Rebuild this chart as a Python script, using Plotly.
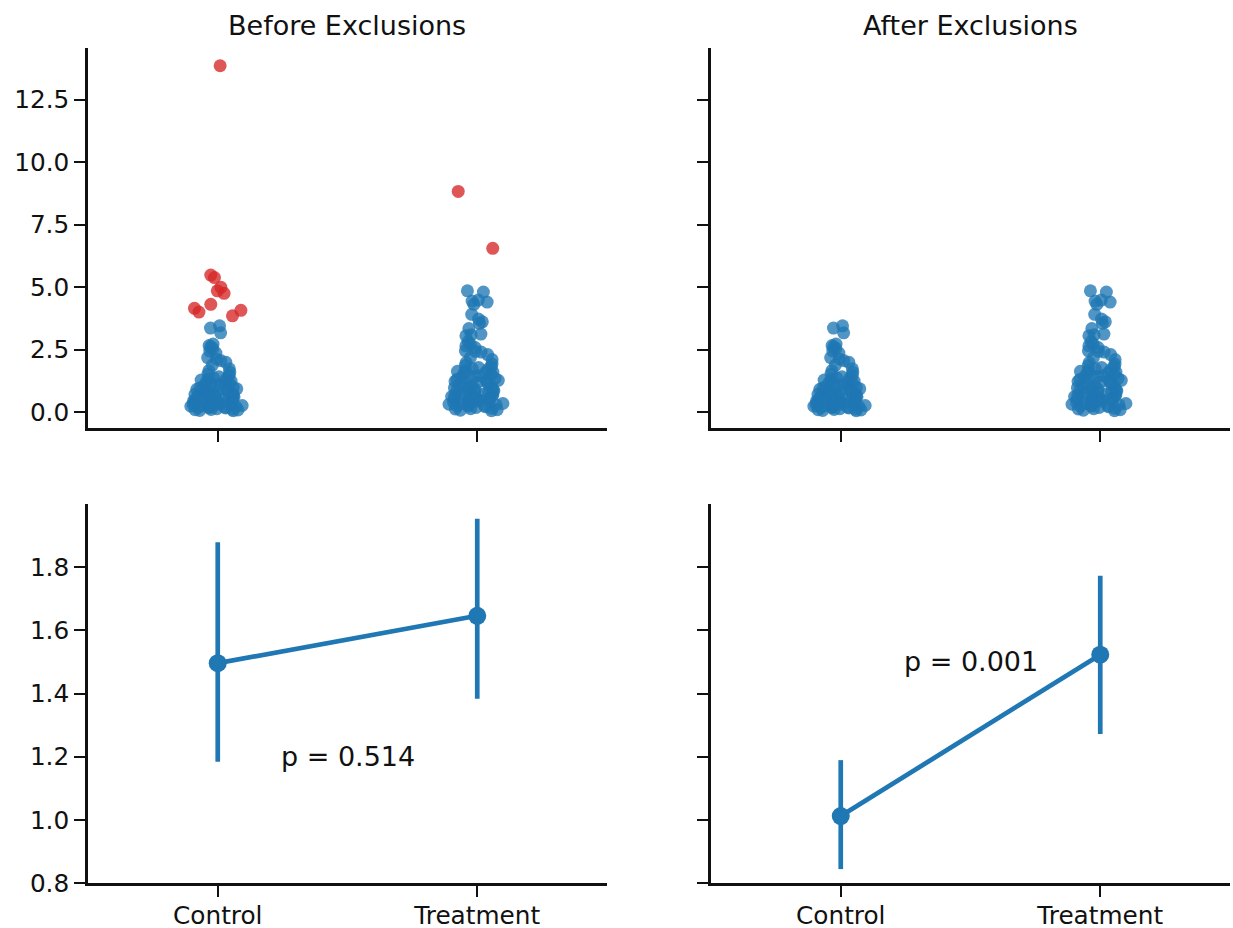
import plotly.graph_objects as go

# ---------------- data ----------------
categories = ["Control", "Treatment"]

control_kept = [
    0.42, 1.13, 1.31, 2.61, 0.08, 0.74, 1.47, 0.19, 0.56, 3.45,
    0.91, 0.33, 1.28, 0.97, 0.65, 2.18, 0.48, 1.02, 0.23, 0.81,
    1.66, 0.37, 1.21, 0.59, 2.72, 0.95, 0.29, 1.36, 0.06, 0.71,
    0.44, 1.19, 0.17, 1.88, 0.52, 0.86, 0.31, 3.17, 0.10, 0.63,
    1.41, 0.25, 0.77, 2.44, 0.39, 1.07, 0.21, 0.54, 1.59, 0.13,
    0.68, 0.35, 2.06, 0.88, 0.46, 1.24, 0.16, 0.61, 0.99, 0.28,
    1.73, 0.09, 0.50, 2.36, 0.79, 0.41, 1.33, 0.22, 0.57, 3.36,
    0.93, 0.34, 1.16, 0.18, 0.73, 2.12, 0.47, 0.05, 1.52, 0.26,
    0.84, 0.38, 2.66, 0.11, 1.09, 0.66, 1.99, 0.31, 2.55,
]
control_excluded = [13.86, 5.48, 5.38, 4.99, 4.85, 4.75, 4.31, 4.15, 4.07, 4.00, 3.85]

treatment_kept = [
    4.85, 4.80, 4.48, 4.44, 4.40, 4.31, 3.91, 3.72, 3.61, 3.55,
    3.34, 3.12, 3.09, 3.05, 2.82, 2.72, 2.65, 2.58, 2.45, 2.43,
    2.40, 2.30, 2.18, 2.10, 1.98, 1.92,
    0.38, 1.27, 0.62, 1.71, 0.15, 0.94, 1.48, 0.53, 0.29, 1.12,
    0.81, 1.63, 0.44, 0.07, 1.35, 0.69, 1.86, 0.24, 1.04, 0.57,
    1.55, 0.33, 0.88, 1.19, 0.12, 0.73, 1.42, 0.49, 1.78, 0.21,
    0.97, 0.64, 1.31, 0.36, 1.60, 0.84, 0.18, 1.09, 0.41, 1.51,
    0.77, 0.27, 1.23, 0.59, 1.67, 0.09, 0.91, 0.46, 1.38, 0.31,
    1.82, 0.67, 1.15, 0.52, 0.05, 1.45, 0.79, 0.23, 1.01, 0.61,
    1.74, 0.34, 1.28, 0.86, 0.13, 0.55, 1.58, 0.43, 0.99, 0.71,
    1.21, 0.26,
]
treatment_excluded = [8.83, 6.55]

before_mean = [1.496, 1.646]
before_ci_low = [1.184, 1.383]
before_ci_high = [1.879, 1.953]
after_mean = [1.012, 1.523]
after_ci_low = [0.844, 1.272]
after_ci_high = [1.189, 1.773]

panel_titles = ["Before Exclusions", "After Exclusions"]
p_labels = ["p = 0.514", "p = 0.001"]
p_label_y = [1.2, 1.5]

top_ticks = [0.0, 2.5, 5.0, 7.5, 10.0, 12.5]
bottom_ticks = [0.8, 1.0, 1.2, 1.4, 1.6, 1.8]

# ---------------- style ----------------
BLUE = "#1f77b4"
RED = "#d62728"
INK = "#111111"
FONT = "DejaVu Sans"
W, H = 1233, 928

fig = go.Figure()


def strip(values, cat, color, xa, ya):
    fig.add_trace(go.Box(
        x=[cat] * len(values), y=values, orientation="v",
        boxpoints="all", jitter=1, pointpos=0, width=0.23,
        fillcolor="rgba(0,0,0,0)", line=dict(width=0, color="rgba(0,0,0,0)"),
        marker=dict(color=color, size=13, opacity=0.78, line=dict(width=0)),
        hoveron="points", showlegend=False, xaxis=xa, yaxis=ya,
    ))


# top-left: before exclusions (outliers in red)
strip(control_kept, categories[0], BLUE, "x", "y")
strip(control_excluded, categories[0], RED, "x", "y")
strip(treatment_kept, categories[1], BLUE, "x", "y")
strip(treatment_excluded, categories[1], RED, "x", "y")
# top-right: after exclusions
strip(control_kept, categories[0], BLUE, "x2", "y2")
strip(treatment_kept, categories[1], BLUE, "x2", "y2")


def pointplot(mean, lo, hi, xa, ya):
    fig.add_trace(go.Scatter(
        x=categories, y=mean, mode="lines+markers",
        line=dict(color=BLUE, width=4.7),
        marker=dict(color=BLUE, size=18),
        error_y=dict(type="data", symmetric=False,
                     array=[h - m for h, m in zip(hi, mean)],
                     arrayminus=[m - l for m, l in zip(mean, lo)],
                     thickness=4.7, width=0, color=BLUE),
        showlegend=False, xaxis=xa, yaxis=ya,
    ))


pointplot(before_mean, before_ci_low, before_ci_high, "x3", "y3")
pointplot(after_mean, after_ci_low, after_ci_high, "x4", "y4")

xdom_left = [88 / W, 607 / W]
xdom_right = [711 / W, 1230 / W]
ydom_top = [1 - 428 / H, 1 - 48 / H]
ydom_bot = [1 - 883 / H, 1 - 504 / H]

common = dict(showline=True, linecolor=INK, linewidth=2.6, ticks="outside",
              ticklen=11, tickwidth=2.4, tickcolor=INK, showgrid=False,
              zeroline=False, fixedrange=True, automargin=False,
              tickfont=dict(family=FONT, size=24.75, color=INK))

xcommon = dict(common, type="category", categoryorder="array",
               categoryarray=categories, range=[-0.5, 1.5])

fig.update_layout(
    width=W, height=H, margin=dict(l=0, r=0, t=0, b=0, pad=0),
    paper_bgcolor="white", plot_bgcolor="white",
    boxmode="overlay",
    xaxis=dict(xcommon, domain=xdom_left, anchor="y", showticklabels=False),
    xaxis2=dict(xcommon, domain=xdom_right, anchor="y2", showticklabels=False),
    xaxis3=dict(xcommon, domain=xdom_left, anchor="y3", ticklabelstandoff=-3),
    xaxis4=dict(xcommon, domain=xdom_right, anchor="y4", ticklabelstandoff=-3),
    yaxis=dict(common, domain=ydom_top, anchor="x", range=[-0.64, 14.57],
               tickvals=top_ticks, tickformat=".1f"),
    yaxis2=dict(common, domain=ydom_top, anchor="x2", range=[-0.64, 14.57],
                tickvals=top_ticks, showticklabels=False),
    yaxis3=dict(common, domain=ydom_bot, anchor="x3", range=[0.8, 2.0],
                tickvals=bottom_ticks, tickformat=".1f"),
    yaxis4=dict(common, domain=ydom_bot, anchor="x4", range=[0.8, 2.0],
                tickvals=bottom_ticks, showticklabels=False),
)

annotations = []
for title, dom in zip(panel_titles, [xdom_left, xdom_right]):
    annotations.append(dict(
        text=title, xref="paper", yref="paper",
        x=(dom[0] + dom[1]) / 2, y=1 - 25 / H,
        xanchor="center", yanchor="middle", showarrow=False,
        font=dict(family=FONT, size=27, color=INK)))
for label, ly, xr, yr in zip(p_labels, p_label_y, ["x3", "x4"], ["y3", "y4"]):
    annotations.append(dict(
        text=label, xref=xr, yref=yr, x=0.5, y=ly,
        xanchor="center", yanchor="middle", showarrow=False,
        font=dict(family=FONT, size=27, color=INK)))
fig.update_layout(annotations=annotations)

fig.write_html("out.html")
